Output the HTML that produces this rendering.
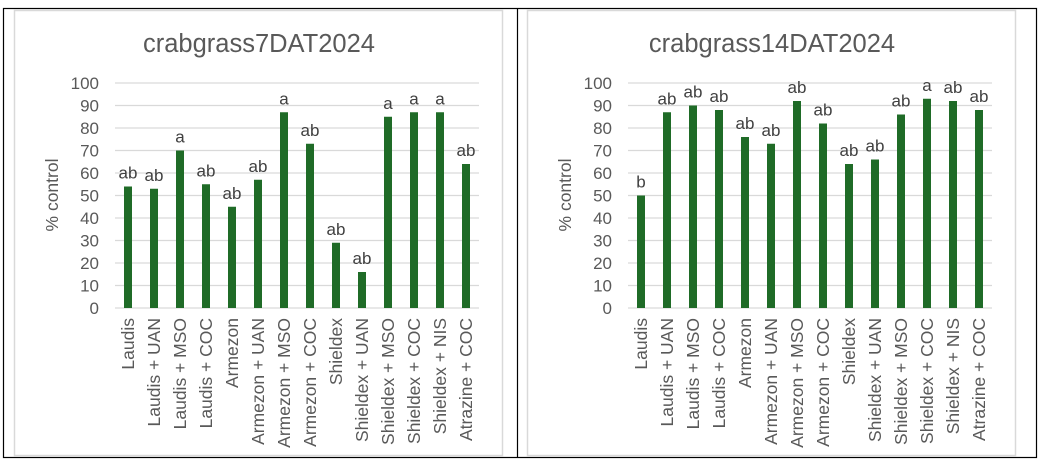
<!DOCTYPE html>
<html><head><meta charset="utf-8"><style>
body{margin:0;background:#fff;}
svg{display:block;font-family:"Liberation Sans",sans-serif;}
</style></head><body>
<svg width="1044" height="462" xmlns="http://www.w3.org/2000/svg">
<rect x="0" y="0" width="1044" height="462" fill="#fff"/>
<rect x="3.5" y="8.5" width="1033" height="449" fill="none" stroke="#000" stroke-width="1.2"/>
<line x1="517.5" y1="8" x2="517.5" y2="458" stroke="#000" stroke-width="1.2"/>
<rect x="14.5" y="10.5" width="488" height="445" fill="none" stroke="#d9d9d9" stroke-width="1.5"/>
<rect x="527.5" y="10.5" width="488" height="445" fill="none" stroke="#d9d9d9" stroke-width="1.5"/>
<g id="charts"></g>
</svg>
<script>
const ns="http://www.w3.org/2000/svg";
const g=document.getElementById("charts");
function el(t,a,txt){const e=document.createElementNS(ns,t);for(const k in a)e.setAttribute(k,a[k]);if(txt!=null)e.textContent=txt;g.appendChild(e);return e;}
const cats=["Laudis","Laudis + UAN","Laudis + MSO","Laudis + COC","Armezon","Armezon + UAN","Armezon + MSO","Armezon + COC","Shieldex","Shieldex + UAN","Shieldex + MSO","Shieldex + COC","Shieldex + NIS","Atrazine + COC"];
function chart(left,title,vals,labs,titleX){
  const right=left+364,y0=308,s=2.25,sp=26;
  el("text",{x:titleX,y:52,"font-size":25.5,fill:"#595959","text-anchor":"middle"},title);
  for(let v=0;v<=100;v+=10){const y=y0-v*s;
    el("line",{x1:left,x2:right,y1:y,y2:y,stroke:"#d9d9d9","stroke-width":1.3});
    el("text",{x:left-16,y:y+6,"font-size":17,fill:"#595959","text-anchor":"end"},v);}
  el("text",{transform:`translate(${left-57},195) rotate(-90)`,"font-size":17.5,fill:"#595959","text-anchor":"middle"},"% control");
  vals.forEach((v,i)=>{const cx=left+13+i*sp;
    el("rect",{x:cx-4,y:y0-v*s,width:8,height:v*s,fill:"#1f6b27"});
    el("text",{x:cx,y:y0-v*s-8,"font-size":17,fill:"#404040","text-anchor":"middle"},labs[i]);
    el("text",{transform:`translate(${cx+6},318) rotate(-90)`,"font-size":17.5,fill:"#595959","text-anchor":"end"},cats[i]);
  });
}
chart(115,"crabgrass7DAT2024",[54,53,70,55,45,57,87,73,29,16,85,87,87,64],
 ["ab","ab","a","ab","ab","ab","a","ab","ab","ab","a","a","a","ab"],259);
chart(628,"crabgrass14DAT2024",[50,87,90,88,76,73,92,82,64,66,86,93,92,88],
 ["b","ab","ab","ab","ab","ab","ab","ab","ab","ab","ab","a","ab","ab"],772);
</script>
</body></html>
